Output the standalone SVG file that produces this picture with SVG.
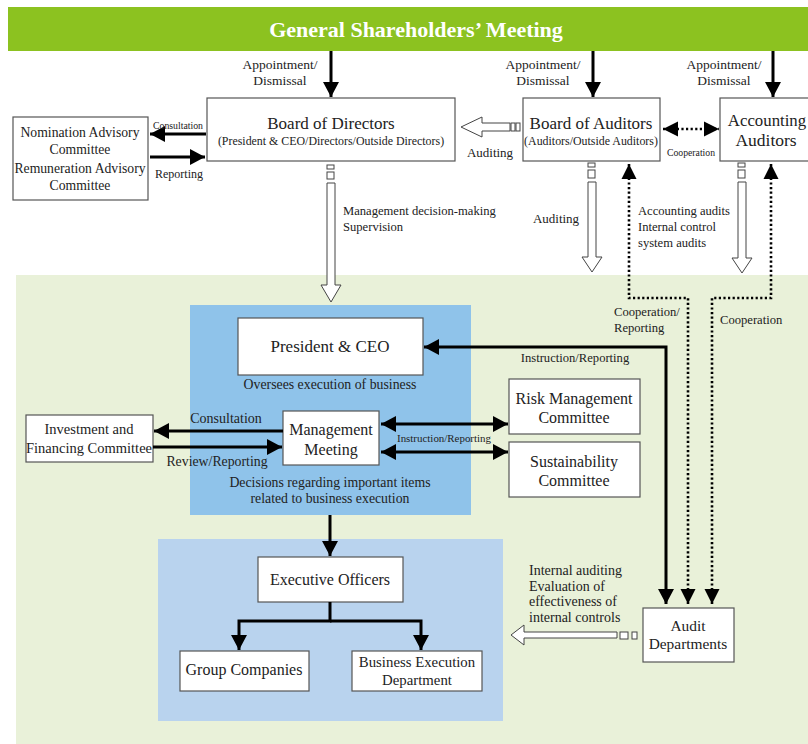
<svg xmlns="http://www.w3.org/2000/svg" width="808" height="744" viewBox="0 0 808 744">
<defs>
<style>
text{font-family:"Liberation Serif","Times New Roman",serif;fill:#222;}
.box{fill:#fff;stroke:#555;stroke-width:1.2;}
.ln{fill:none;stroke:#000;stroke-width:3;}
.dot{fill:none;stroke:#000;stroke-width:2.6;stroke-dasharray:2.2 2.4;}
.hol{fill:#fff;stroke:#444;stroke-width:1;}
.c{text-anchor:middle;}
.s17{font-size:17px;}
.s16{font-size:16px;}
.s14{font-size:14px;}
.s13{font-size:13.8px;}
.s12{font-size:12.6px;}
.s11{font-size:11.9px;}
.s10{font-size:10px;}
</style>
<marker id="ah" markerUnits="userSpaceOnUse" markerWidth="16" markerHeight="16" refX="15" refY="8" orient="auto-start-reverse" viewBox="0 0 16 16">
<path d="M0,0 L15,8 L0,16 z" fill="#000"/>
</marker>
<marker id="ahs" markerUnits="userSpaceOnUse" markerWidth="16" markerHeight="16" refX="15" refY="8" orient="auto-start-reverse" viewBox="0 0 16 16">
<path d="M0,0.5 L15,8 L0,15.5 z" fill="#000"/>
</marker>
</defs>

<!-- backgrounds -->
<rect x="0" y="0" width="808" height="744" fill="#fff"/>
<rect x="16" y="275" width="792" height="469" fill="#e9f1d9"/>
<rect x="190" y="305" width="281" height="210" fill="#8fc3ea"/>
<rect x="158" y="539" width="345" height="182" fill="#b9d3ee"/>

<g id="gsm">
<rect x="8" y="7" width="800" height="44" fill="#8cc220"/>
<text x="416" y="37" class="c" style="font-size:22px;font-weight:bold;fill:#fff">General Shareholders’ Meeting</text>
</g>

<g id="bod">
<rect class="box" x="207" y="98" width="248" height="63"/>
<text x="331" y="129" class="c s17">Board of Directors</text>
<text x="331" y="145" class="c s11">(President &amp; CEO/Directors/Outside Directors)</text>
</g>

<g id="boa">
<rect class="box" x="523" y="98" width="137" height="63"/>
<text x="591" y="129" class="c s17">Board of Auditors</text>
<text x="591" y="145" class="c s11">(Auditors/Outside Auditors)</text>
</g>

<g id="acc">
<rect class="box" x="720" y="98" width="100" height="63"/>
<text x="767" y="126" class="c" style="font-size:16.8px">Accounting</text>
<text x="766" y="146" class="c" style="font-size:17.5px">Auditors</text>
</g>

<g id="nom">
<rect class="box" x="13" y="117" width="135" height="83"/>
<text x="80" y="137" class="c" style="font-size:13.7px">Nomination Advisory</text>
<text x="80" y="154" class="c" style="font-size:13.7px">Committee</text>
<text x="80" y="173" class="c" style="font-size:13.7px">Remuneration Advisory</text>
<text x="80" y="190" class="c" style="font-size:13.7px">Committee</text>
</g>

<g id="ceo">
<rect class="box" x="238" y="318" width="185" height="57"/>
<text x="330" y="352" class="c s17">President &amp; CEO</text>
<text x="330" y="389" class="c s13">Oversees execution of business</text>
</g>

<g id="mm">
<rect class="box" x="283" y="411" width="96" height="54"/>
<text x="331" y="435" class="c s16">Management</text>
<text x="331" y="455" class="c s16">Meeting</text>
<text x="330" y="487" class="c s13">Decisions regarding important items</text>
<text x="330" y="503" class="c s13">related to business execution</text>
</g>

<g id="inv">
<rect class="box" x="26" y="415" width="127" height="47"/>
<text x="89" y="434" class="c" style="font-size:14.5px">Investment and</text>
<text x="89" y="453" class="c" style="font-size:14.5px">Financing Committee</text>
</g>

<g id="risk">
<rect class="box" x="509" y="379" width="131" height="55"/>
<text x="574" y="404" class="c s16">Risk Management</text>
<text x="574" y="423" class="c s16">Committee</text>
</g>

<g id="sus">
<rect class="box" x="509" y="442" width="131" height="55"/>
<text x="574" y="467" class="c s16">Sustainability</text>
<text x="574" y="486" class="c s16">Committee</text>
</g>

<g id="exec">
<rect class="box" x="258" y="557" width="145" height="45"/>
<text x="330" y="585" class="c s16">Executive Officers</text>
</g>

<g id="grp">
<rect class="box" x="180" y="651" width="129" height="40"/>
<text x="244" y="675" class="c s16">Group Companies</text>
</g>

<g id="bed">
<rect class="box" x="352" y="651" width="130" height="40"/>
<text x="417" y="667" class="c" style="font-size:14.8px">Business Execution</text>
<text x="417" y="685" class="c" style="font-size:14.8px">Department</text>
</g>

<g id="audit">
<rect class="box" x="643" y="608" width="91" height="54"/>
<text x="688" y="631" class="c" style="font-size:15.4px">Audit</text>
<text x="688" y="649" class="c" style="font-size:15.4px">Departments</text>
</g>

<g id="connectors">
<!-- appointment arrows -->
<line class="ln" x1="331" y1="51" x2="331" y2="97" marker-end="url(#ah)"/>
<line class="ln" x1="593" y1="51" x2="593" y2="97" marker-end="url(#ah)"/>
<line class="ln" x1="773" y1="51" x2="773" y2="97" marker-end="url(#ah)"/>
<!-- nomination -->
<line class="ln" x1="206" y1="134" x2="150" y2="134" marker-end="url(#ah)"/>
<line class="ln" x1="150" y1="157" x2="205" y2="157" marker-end="url(#ah)"/>
<!-- hollow auditing arrow to BoD -->
<polygon class="hol" points="461,127 482,117 482,123 510,123 510,131 482,131 482,137"/>
<rect class="hol" x="511" y="123" width="4" height="8"/>
<rect class="hol" x="516" y="123" width="4" height="8"/>
<!-- cooperation dotted double -->
<line class="dot" x1="663" y1="129" x2="719" y2="129" marker-start="url(#ahs)" marker-end="url(#ahs)"/>
<!-- BoD supervision hollow arrow -->
<rect class="hol" x="327" y="165" width="7" height="4"/>
<rect class="hol" x="327" y="172" width="7" height="7"/>
<polygon class="hol" points="327,183 335,183 335,285 341,285 331,302 321,285 327,285"/>
<!-- BoA auditing hollow arrow -->
<rect class="hol" x="588" y="163" width="7" height="4"/>
<rect class="hol" x="588" y="170" width="7" height="8"/>
<polygon class="hol" points="588,182 596,182 596,257 602,257 592,272 582,257 588,257"/>
<!-- Accounting auditors hollow arrow -->
<rect class="hol" x="738" y="163" width="7" height="4"/>
<rect class="hol" x="738" y="170" width="7" height="8"/>
<polygon class="hol" points="738,182 746,182 746,258 752,258 742,273 732,258 738,258"/>
<!-- dotted BoA <-> Audit -->
<path class="dot" d="M629,164 V298 H688 V604" marker-start="url(#ahs)" marker-end="url(#ahs)"/>
<!-- dotted Acc <-> Audit -->
<path class="dot" d="M771,164 V298 H712 V604" marker-start="url(#ahs)" marker-end="url(#ahs)"/>
<!-- Instruction/Reporting CEO <-> Audit -->
<path class="ln" d="M424,347 H666 V604" marker-start="url(#ah)" marker-end="url(#ah)"/>
<!-- MM <-> Risk / Sustainability -->
<line class="ln" x1="381" y1="424" x2="508" y2="424" marker-start="url(#ah)" marker-end="url(#ah)"/>
<line class="ln" x1="381" y1="452" x2="508" y2="452" marker-start="url(#ah)" marker-end="url(#ah)"/>
<!-- MM <-> Investment -->
<line class="ln" x1="283" y1="431" x2="154" y2="431" marker-end="url(#ah)"/>
<line class="ln" x1="153" y1="447" x2="282" y2="447" marker-end="url(#ah)"/>
<!-- to executive officers -->
<line class="ln" x1="330" y1="515" x2="330" y2="556" marker-end="url(#ah)"/>
<path class="ln" d="M330,602 V621 H239 V650" marker-end="url(#ah)"/>
<path class="ln" d="M330,621 H421 V650" marker-end="url(#ah)"/>
<!-- hollow internal audit arrow -->
<polygon class="hol" points="511,635 524,625 524,632 617,632 617,638 524,638 524,645"/>
<rect class="hol" x="620" y="632" width="8" height="7"/>
<rect class="hol" x="632" y="632" width="5" height="7"/>
</g>

<g id="labels">
<text x="280" y="69" class="c" style="font-size:13.5px">Appointment/</text>
<text x="280" y="85" class="c" style="font-size:13.5px">Dismissal</text>
<text x="543" y="69" class="c" style="font-size:13.5px">Appointment/</text>
<text x="543" y="85" class="c" style="font-size:13.5px">Dismissal</text>
<text x="724" y="69" class="c" style="font-size:13.5px">Appointment/</text>
<text x="724" y="85" class="c" style="font-size:13.5px">Dismissal</text>
<text x="153" y="129" class="s10" textLength="50" lengthAdjust="spacingAndGlyphs">Consultation</text>
<text x="155" y="178" class="s12" textLength="48" lengthAdjust="spacingAndGlyphs">Reporting</text>
<text x="490" y="157" class="c" style="font-size:13px">Auditing</text>
<text x="691" y="156" class="c s10" textLength="48" lengthAdjust="spacingAndGlyphs">Cooperation</text>
<text x="343" y="215" class="s12">Management decision-making</text>
<text x="343" y="231" class="s12">Supervision</text>
<text x="556" y="223" class="c" style="font-size:13px">Auditing</text>
<text x="638" y="215" class="s12">Accounting audits</text>
<text x="638" y="231" class="s12">Internal control</text>
<text x="638" y="247" class="s12">system audits</text>
<text x="614" y="316" class="s12">Cooperation/</text>
<text x="614" y="332" class="s12">Reporting</text>
<text x="720" y="324" class="s12">Cooperation</text>
<text x="575" y="362" class="c s12">Instruction/Reporting</text>
<text x="444" y="442" class="c s10" textLength="94" lengthAdjust="spacingAndGlyphs">Instruction/Reporting</text>
<text x="226" y="423" class="c" style="font-size:14px">Consultation</text>
<text x="217" y="466" class="c s13">Review/Reporting</text>
<text x="529" y="575" class="s14">Internal auditing</text>
<text x="529" y="591" class="s14">Evaluation of</text>
<text x="529" y="606" class="s14">effectiveness of</text>
<text x="529" y="622" class="s14">internal controls</text>
</g>
</svg>
